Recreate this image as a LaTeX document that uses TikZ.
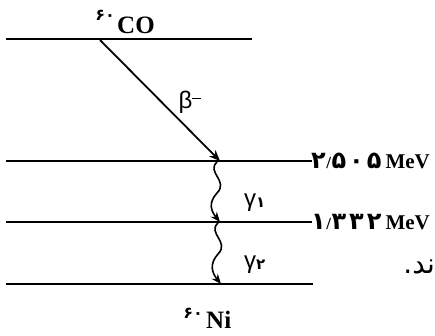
\documentclass[tikz,border=0pt]{standalone}
\usepackage{fontspec}
\setmainfont{Liberation Serif}
\newfontfamily\fadigits{DejaVu Sans}
\newfontfamily\arabicfont[Script=Arabic]{DejaVu Sans}
\newfontfamily\greekfont{Liberation Sans}
\TeXXeTstate=1
\usetikzlibrary{arrows.meta}
\newcommand{\dg}[1]{{\fontsize{24}{24}\fadigits\bfseries #1}}
\newcommand{\dsl}{\hspace{0.5pt}{\fontsize{17}{17}\selectfont\bfseries /}\hspace{0.5pt}}
\newcommand{\dsp}{\hspace{3pt}}
\begin{document}
\begin{tikzpicture}[x=1pt,y=-1pt,
  levelline/.style={line width=2pt},
  decay/.style={line width=1.8pt,-{Stealth[length=11pt,width=9pt]}},
  wavy/.style={line width=1.6pt,-{Stealth[length=10pt,width=8pt]}},
  nuc/.style={inner sep=0pt,font=\fontsize{25}{25}\selectfont\bfseries},
  sup/.style={inner sep=0pt,font=\fontsize{16}{16}\fadigits\bfseries},
  glab/.style={inner sep=0pt,font=\fontsize{24}{24}\greekfont},
  elab/.style={inner sep=0pt,anchor=base east}]
\useasboundingbox (0,0) rectangle (435,335);
% level coordinates
\coordinate (L0a) at (6,39);   \coordinate (L0b) at (252,39);
\coordinate (L1a) at (6,161);  \coordinate (L1b) at (312,161);
\coordinate (L2a) at (6,222);  \coordinate (L2b) at (312,222);
\coordinate (L3a) at (6,284);  \coordinate (L3b) at (313,284);
\draw[levelline] (L0a) -- (L0b);
\draw[levelline] (L1a) -- (L1b);
\draw[levelline] (L2a) -- (L2b);
\draw[levelline] (L3a) -- (L3b);
% decay endpoints
\coordinate (Bs) at (100,40);
\coordinate (Be) at (220,161);
\coordinate (G1s) at (217,162);
\coordinate (G1e) at (220,222);
\coordinate (G2s) at (218,223);
\coordinate (G2e) at (221,284);
\draw[decay] (Bs) -- (Be);
\draw[wavy] (G1s) .. controls (206,172) and (229,181) .. (217,193)
   .. controls (208,203) and (211,211) .. (G1e);
\draw[wavy] (G2s) .. controls (207,233) and (230,242) .. (218,254)
   .. controls (209,264) and (212,273) .. (G2e);
% labels
\node[sup,anchor=base east] (coA) at (115,20) {۶۰};
\node[nuc,anchor=base west] (coB) at (117,33) {CO};
\node[sup,anchor=base east] (niA) at (203,318) {۶۰};
\node[nuc,anchor=base west] (niB) at (206,328) {Ni};
\node[glab,anchor=base] (beta) at (190,108) {β\raisebox{9pt}{\rule{9pt}{1.5pt}}};
\node[glab,anchor=base west] (g1) at (244,206) {γ\raisebox{-1pt}{\fontsize{15}{15}\fadigits\bfseries ۱}};
\node[glab,anchor=base west] (g2) at (244,268) {γ\raisebox{-1pt}{\fontsize{15}{15}\fadigits\bfseries ۲}};
\node[elab] (e1) at (430,168)
  {\dg{۲}\dsl\dg{۵}\dsp\dg{۰}\dsp\dg{۵}\hspace{4pt}{\fontsize{21}{21}\selectfont\bfseries MeV}};
\node[elab] (e2) at (430,229)
  {\dg{۱}\dsl\dg{۳}\dsp\dg{۳}\dsp\dg{۲}\hspace{4pt}{\fontsize{21}{21}\selectfont\bfseries MeV}};
\node[inner sep=0pt,anchor=base east,font=\fontsize{28}{28}\arabicfont] (tx) at (435,273) {\beginR ند.\endR};
\end{tikzpicture}
\end{document}
